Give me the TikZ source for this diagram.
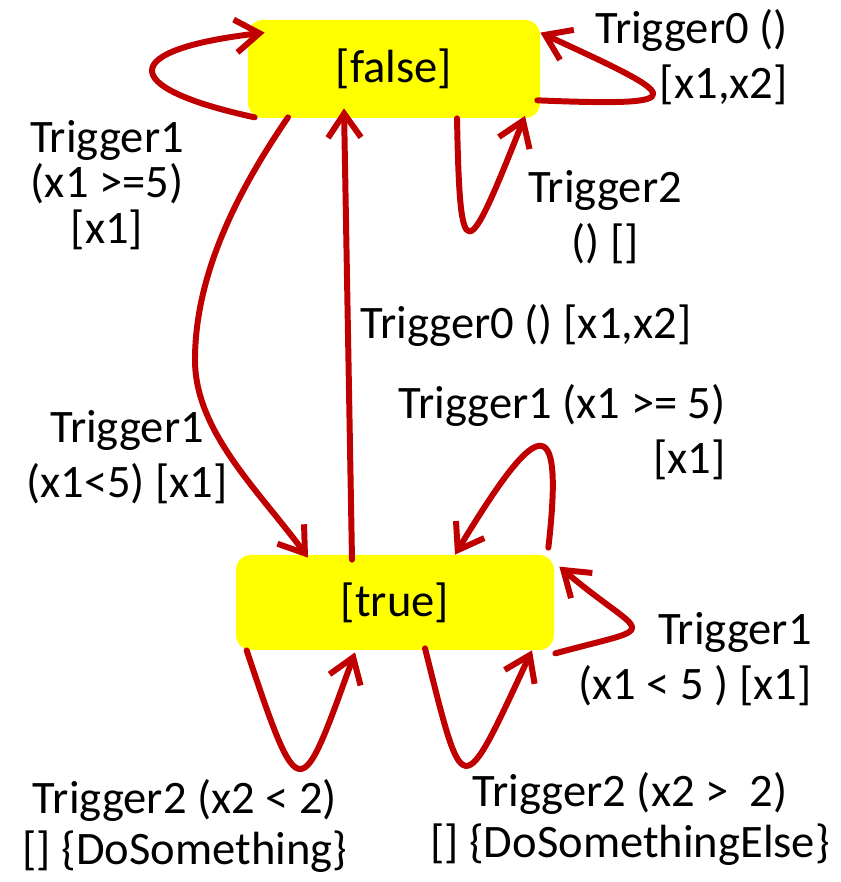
\documentclass[tikz,border=0pt]{standalone}
\usepackage{fontspec}
\setmainfont{Carlito}
\usetikzlibrary{arrows.meta}
\definecolor{stateyellow}{HTML}{FFFF00}
\definecolor{linkred}{HTML}{C00000}
\begin{document}
\begin{tikzpicture}[
  >={Straight Barb[length=0.48cm,width=0.66cm]},
  state/.style={fill=stateyellow,rounded corners=0.3cm,font=\fontsize{26.5}{31}\selectfont},
  trans/.style={->,draw=linkred,line width=3.4pt,line cap=round,line join=round},
  lbl/.style={align=center,inner sep=0pt,font=\fontsize{26.5}{31}\selectfont},
  lbltight/.style={lbl,font=\fontsize{26.5}{26}\selectfont},
  lblmid/.style={lbl,font=\fontsize{26.5}{28.5}\selectfont}
]
  \useasboundingbox (0,0) rectangle (16.8,17.64);

  \node[state,minimum width=5.84cm,minimum height=1.96cm] (sfalse) at (7.88,16.26) {[false]};
  \node[state,minimum width=6.36cm,minimum height=1.90cm] (strue) at (7.90,5.59) {[true]};

  % loops on [false]
  \draw[trans] ([shift={(0.14,0.02)}]sfalse.south west) .. controls (2.3,15.9) and (2.4,16.65) .. ([shift={(0.34,-0.26)}]sfalse.north west);
  \draw[trans] ([shift={(-0.06,0.36)}]sfalse.south east) .. controls (14.0,15.5) and (13.6,15.7) .. ([shift={(0,-0.26)}]sfalse.north east);
  \draw[trans] ([shift={(1.26,0)}]sfalse.south) .. controls (9.2,12.2) and (9.32,12.35) .. ([shift={(2.62,0.05)}]sfalse.south);

  % between the states
  \draw[trans] ([shift={(-2.12,0.02)}]sfalse.south) .. controls (4.6,13.6) and (3.9,12.0) .. (3.9,10.44)
    .. controls (3.9,9.0) and (5.2,7.8) .. ([shift={(-1.74,-0.06)}]strue.north);
  \draw[trans] ([shift={(-0.86,-0.1)}]strue.north) -- ([shift={(-1.0,0.2)}]sfalse.south);

  % loops on [true]
  \draw[trans] ([shift={(-0.12,0.14)}]strue.north east) .. controls (11.3,9.6) and (10.7,9.2) .. ([shift={(1.2,0)}]strue.north);
  \draw[trans] ([shift={(0.02,-0.06)}]strue.south east) .. controls (13.31,5.17) and (12.93,4.83) .. ([shift={(0.1,-0.24)}]strue.north east);
  \draw[trans] ([shift={(0.22,0)}]strue.south west) .. controls (6.0,1.45) and (6.0,1.55) .. ([shift={(-0.8,-0.04)}]strue.south);
  \draw[trans] ([shift={(0.6,0.04)}]strue.south) .. controls (9.28,1.57) and (9.21,1.57) .. ([shift={(2.74,0)}]strue.south);

  % labels
  \node[lbltight] (tfl) at (2.14,13.94) {Trigger1\\(x1 >=5)\\{}[x1]};
  \node[lbl,anchor=east,align=right] (tfr) at (15.76,16.5) {Trigger0 ()\\{}[x1,x2]};
  \node[lbl] (tfb) at (12.10,13.3) {Trigger2\\() []};
  \node[lbl] (tft) at (10.52,11.14) {Trigger0 () [x1,x2]};
  \node[lbl] (tff) at (2.54,8.5) {Trigger1\\(x1<5) [x1]};
  \node[lbl,anchor=east,align=right] (ttu) at (14.52,9.0) {Trigger1 (x1 >= 5)\\{}[x1]};
  \node[lbl,anchor=east,align=right] (ttr) at (16.24,4.46) {Trigger1\\(x1 < 5 ) [x1]};
  \node[lblmid] (ttl) at (3.70,1.12) {Trigger2 (x2 < 2)\\{}[] \{DoSomething\}};
  \node[lblmid] (ttb) at (12.60,1.26) {Trigger2 (x2 >\ \ 2)\\{}[] \{DoSomethingElse\}};
\end{tikzpicture}
\end{document}
